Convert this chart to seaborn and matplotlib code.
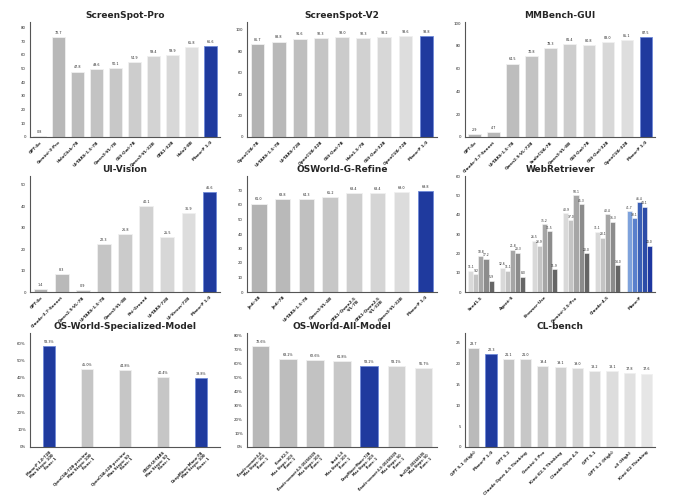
import numpy as np
import pandas as pd
import seaborn as sns
import matplotlib.pyplot as plt

# ---- data ----
sspro_models = ["GPT-4o", "Gemini-3-Pro", "HoloClick-7B", "UI-TARS-1.5-7B", "Qwen3-VL-7B",
                "GUI-Owl-7B", "Qwen3-VL-32B", "GTA1-32B", "Holo2-8B", "Mano-P 1.0"]
sspro_scores = [0.8, 72.7, 47.8, 49.6, 50.1, 54.9, 59.4, 59.9, 65.8, 66.6]

ssv2_models = ["OpenCUA-7B", "UI-TARS-1.5-7B", "UI-TARS-72B", "OpenCUA-32B", "GUI-Owl-7B",
               "Holo1.5-7B", "GUI-Owl-32B", "OpenCUA-72B", "Mano-P 1.0"]
ssv2_scores = [86.7, 88.8, 91.6, 92.3, 93.0, 92.3, 93.2, 93.6, 93.8]

mmb_models = ["GPT-4o", "Claude-3.7-Sonnet", "UI-TARS-1.5-7B", "Qwen2.5-VL-72B", "ScaleCUA-7B",
              "Qwen3-VL-8B", "GUI-Owl-7B", "GUI-Owl-32B", "OpenCUA-32B", "Mano-P 1.0"]
mmb_scores = [2.9, 4.7, 64.5, 70.8, 78.3, 81.4, 80.8, 83.0, 85.1, 87.5]

uiv_models = ["GPT-4o", "Claude-3.7-Sonnet", "Qwen2.5-VL-7B", "UI-TARS-1.5-7B", "Qwen3-VL-8B",
              "Phi-Ground", "UI-TARS-72B", "UI-Venus-72B", "Mano-P 1.0"]
uiv_scores = [1.4, 8.3, 0.9, 22.3, 26.8, 40.1, 25.5, 36.9, 46.6]

osg_models = ["Jedi-3B", "Jedi-7B", "UI-TARS-1.5-7B", "Qwen3-VL-4B", "GTA1-Qwen2.5\n-VL-7B",
              "GTA1-Qwen2.5\n-VL-32B", "Qwen3-VL-32B", "Mano-P 1.0"]
osg_scores = [61.0, 63.8, 64.3, 65.2, 68.4, 68.4, 69.0, 69.8]

web_groups = ["Seed1.5", "Agent-S", "Browser-Use", "Gemini-2.5-Pro", "Claude-4.5", "Mano-P"]
web_metrics = ["m1", "m2", "m3", "m4", "m5"]
web_scores = [
    [11.1, 9.2, 18.8, 17.2, 5.9],
    [12.6, 11.1, 21.8, 20.3, 8.0],
    [26.5, 23.9, 35.2, 31.5, 11.9],
    [40.9, 37.0, 50.1, 45.3, 20.0],
    [31.1, 28.1, 40.4, 36.3, 14.0],
    [41.7, 38.1, 46.4, 44.1, 24.0],
]

osspec_models = ["Mano-P 1.0-72B\nMax Steps: 100\nRuns: 1",
                 "OpenCUA-72B-preview\nMax Steps: 100\nRuns: 1",
                 "OpenCUA-32B-preview\nMax Steps: 50\nRuns: 1",
                 "GBOX-UI-TARS\nMax Steps: 50\nRuns: 1",
                 "DeepMiner-Mano-7B\nMax Steps: 100\nRuns: 1"]
osspec_scores = [58.3, 45.0, 44.8, 40.4, 39.8]

osall_models = ["Claude-sonnet-4.6\nMax Steps: 100\nRuns: 1",
                "Kimi K2.5\nMax Steps: 100\nRuns: 1",
                "Claude-sonnet-4.5-20250929\nMax Steps: 100\nRuns: 1",
                "Seed-1.8\nMax Steps: 100\nRuns: 1",
                "DeepMiner-Mano-72B\nMax Steps: 100\nRuns: 1",
                "Claude-sonnet-4.5-20250929\nMax Steps: 50\nRuns: 1",
                "EvoCUA-20260105\nMax Steps: 50\nRuns: 1"]
osall_scores = [72.6, 63.2, 62.6, 61.8, 58.2, 58.1, 56.7]

cl_models = ["GPT 5.1 (High)", "Mano-P 1.0", "GPT 5.2", "Claude Opus 4.5 Thinking", "Gemini 3 Pro",
             "Kimi K2.5 Thinking", "Claude Opus 4.5", "GPT 5.1", "GPT 5.2 (High)", "o3 (High)",
             "Kimi K2 Thinking"]
cl_scores = [23.7, 22.3, 21.1, 21.0, 19.4, 19.1, 19.0, 18.2, 18.1, 17.8, 17.6]

BLUE = "#1f3a9e"
BLUE_EDGE = "#6f8ad8"


def gray_palette(n, blue_idx, lo=0.70, hi=0.89):
    levels = np.linspace(lo, hi, n)
    cols = []
    for i, v in enumerate(levels):
        cols.append(BLUE if i in blue_idx else (v, v, v))
    return cols


def style_ax(ax, title, yticks, ymax, pct=False, xsize=3.0):
    ax.set_title(title, fontsize=6.5, fontweight="bold", pad=3)
    ax.set_ylim(0, ymax)
    ax.set_yticks(yticks)
    if pct:
        ax.set_yticklabels([f"{t}%" for t in yticks])
    ax.set_xlabel("")
    ax.set_ylabel("")
    ax.tick_params(axis="y", labelsize=2.8, length=1.5, width=0.4, pad=1.5)
    ax.tick_params(axis="x", labelsize=xsize, length=1.5, width=0.4, pad=1)
    for lab in ax.get_xticklabels():
        lab.set_rotation(45)
        lab.set_ha("right")
        lab.set_rotation_mode("anchor")
        lab.set_fontweight("bold")
    for s in ["top", "right"]:
        ax.spines[s].set_visible(False)
    ax.spines["left"].set_color("#555555")
    ax.spines["bottom"].set_color("#555555")
    ax.spines["left"].set_linewidth(0.8)
    ax.spines["bottom"].set_linewidth(0.8)


def simple_bar(ax, models, scores, title, yticks, ymax, blue_idx, width=0.65, pct=False,
               lo=0.70, hi=0.89, xsize=3.0):
    df = pd.DataFrame({"model": models, "score": scores})
    pal = gray_palette(len(models), blue_idx, lo, hi)
    sns.barplot(data=df, x="model", y="score", hue="model", palette=pal, legend=False,
                width=width, ax=ax, saturation=1)
    for i, p in enumerate(ax.patches):
        p.set_edgecolor(BLUE_EDGE if i in blue_idx else "#f0f0f0")
        p.set_linewidth(0.6)
    fmt = "{:.1f}%" if pct else "{:.1f}"
    for c in ax.containers:
        ax.bar_label(c, labels=[fmt.format(v) for v in c.datavalues], fontsize=2.4, padding=1.5)
    style_ax(ax, title, yticks, ymax, pct, xsize)


sns.set_theme(style="white")
plt.rcParams["font.family"] = ["DejaVu Sans"]

fig = plt.figure(figsize=(6.89, 5.0), dpi=100)
lefts = [0.0435, 0.3585, 0.675]
rows = [(0.726, 0.23), (0.416, 0.232), (0.106, 0.228)]
axes = [[fig.add_axes([l, b, 0.276, h]) for l in lefts] for (b, h) in rows]

simple_bar(axes[0][0], sspro_models, sspro_scores, "ScreenSpot-Pro", range(0, 90, 10), 84, [9])
simple_bar(axes[0][1], ssv2_models, ssv2_scores, "ScreenSpot-V2", range(0, 101, 20), 107, [8])
simple_bar(axes[0][2], mmb_models, mmb_scores, "MMBench-GUI", range(0, 101, 20), 101, [9])
simple_bar(axes[1][0], uiv_models, uiv_scores, "UI-Vision", range(0, 51, 10), 54, [8])
simple_bar(axes[1][1], osg_models, osg_scores, "OSWorld-G-Refine", range(0, 71, 10), 80, [7])

# grouped WebRetriever
ax = axes[1][2]
rows_w = []
for g, vals in zip(web_groups, web_scores):
    for m, v in zip(web_metrics, vals):
        rows_w.append({"group": g, "metric": m, "score": v})
dfw = pd.DataFrame(rows_w)
gpal = ["#d9d9d9", "#c4c4c4", "#a6a6a6", "#8c8c8c", "#666666"]
bpal = ["#7ea2dc", "#5a80cc", "#3a5fb6", "#2c4ca8", "#1e37a0"]
sns.barplot(data=dfw, x="group", y="score", hue="metric", palette=gpal, legend=False,
            width=0.8, ax=ax, saturation=1)
for k, c in enumerate(ax.containers):
    for j, p in enumerate(c):
        if web_groups[j] == "Mano-P":
            p.set_facecolor(bpal[k])
        p.set_edgecolor("#f4f4f4")
        p.set_linewidth(0.4)
    ax.bar_label(c, labels=[f"{v:.1f}" for v in c.datavalues], fontsize=2.2, padding=1)
style_ax(ax, "WebRetriever", range(0, 61, 10), 60)

simple_bar(axes[2][0], osspec_models, osspec_scores, "OS-World-Specialized-Model",
           range(0, 61, 10), 66, [0, 4], width=0.33, pct=True, lo=0.77, hi=0.78, xsize=2.7)
simple_bar(axes[2][1], osall_models, osall_scores, "OS-World-All-Model",
           range(0, 81, 10), 82, [4], width=0.65, pct=True, lo=0.72, hi=0.84, xsize=2.4)
simple_bar(axes[2][2], cl_models, cl_scores, "CL-bench", range(0, 26, 5), 27.3, [1], width=0.65,
           lo=0.73, hi=0.90)

fig.savefig("out.png", dpi=100)
